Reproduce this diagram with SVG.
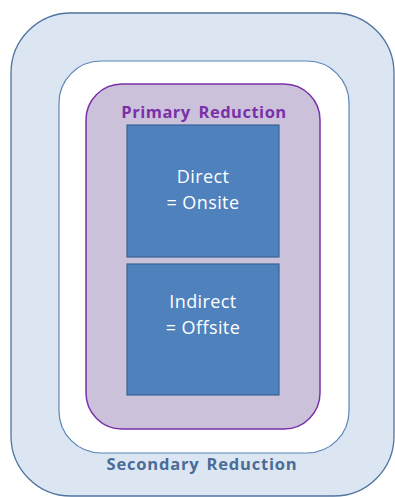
<svg xmlns="http://www.w3.org/2000/svg" width="395" height="497" viewBox="0 0 395 497">
  <style>
    .lbl { font-family: "Open Sans", "Liberation Sans", sans-serif; text-anchor: middle; }
    .box { fill: #4F81BD; stroke: #3A6494; stroke-width: 1.2; }
    .boxtxt { fill: #FFFFFF; font-size: 18px; letter-spacing: 0.4px; }
  </style>
  <rect width="395" height="497" fill="#FFFFFF"/>

  <g id="secondary">
    <rect x="11" y="13" width="383" height="483" rx="60" ry="60" fill="#DCE6F2" stroke="#4F74A0" stroke-width="1.3"/>
    <rect x="59" y="61" width="290" height="392" rx="42" ry="42" fill="#FFFFFF" stroke="#5B86B8" stroke-width="1.2"/>
    <text class="lbl" x="202" y="470" font-size="16.5" font-weight="bold" fill="#4A6C96" letter-spacing="0.8" word-spacing="2">Secondary Reduction</text>
  </g>

  <g id="primary">
    <rect x="86" y="84" width="234" height="345" rx="36" ry="36" fill="#CCC1DA" stroke="#7A30A8" stroke-width="1.5"/>
    <text class="lbl" x="204" y="118" font-size="16.5" font-weight="bold" fill="#7A30A8" letter-spacing="0.5" word-spacing="3">Primary Reduction</text>
  </g>

  <g id="direct">
    <rect class="box" x="127" y="125" width="152" height="132"/>
    <text class="lbl boxtxt" x="203" y="183">Direct</text>
    <text class="lbl boxtxt" x="203" y="209">= Onsite</text>
  </g>

  <g id="indirect">
    <rect class="box" x="127" y="264" width="152" height="131"/>
    <text class="lbl boxtxt" x="203" y="308">Indirect</text>
    <text class="lbl boxtxt" x="203" y="334">= Offsite</text>
  </g>

  <g id="connectors"/>
</svg>
